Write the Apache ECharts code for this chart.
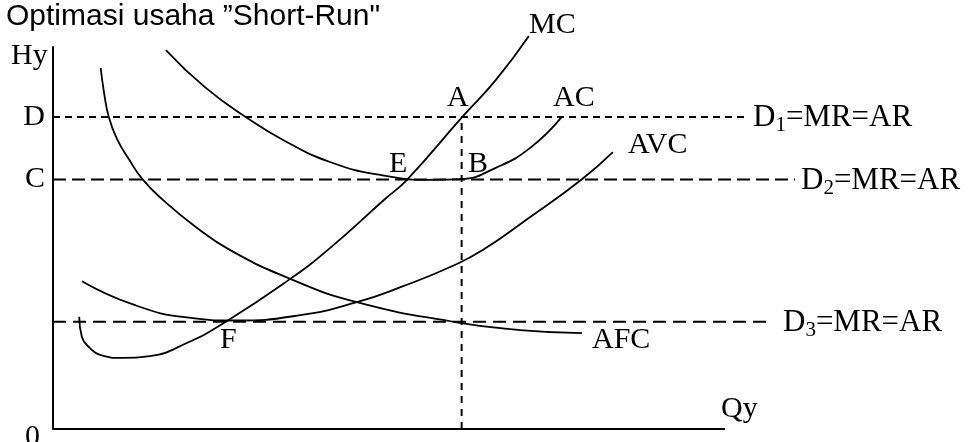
<!DOCTYPE html>
<html>
<head>
<meta charset="utf-8">
<script src="https://cdn.jsdelivr.net/npm/echarts@6/dist/echarts.min.js"></script>
<style>
html,body{margin:0;padding:0;background:#fff;}
#chart{width:969px;height:442px;}
</style>
</head>
<body>
<div id="chart"></div>
<script>
// ---- data (Q = quantity, P = price/cost) ----
const title = 'Optimasi usaha \u201DShort-Run"';
const yTickValues = [65.3, 81.7];
const yTickLabels = ['C', 'D'];
const qAxisEnd = 100;          // length of the drawn Q axis

const mcQ  = [3.9, 4.3, 5.5, 7.0, 10.3, 14.4, 19.9, 25.9, 35.3, 40.9, 49.4, 52.7, 60.9, 65.9, 70.8];
const mcP  = [29.4, 24.1, 21.2, 19.4, 18.6, 19.1, 22.5, 28.3, 39.3, 46.9, 60.2, 65.3, 81.7, 91.4, 102.9];

const avcQ = [4.3, 11.9, 19.9, 27.1, 36.8, 45.2, 52.1, 59.1, 64.0, 71.0, 78.7, 83.3];
const avcP = [38.7, 32.6, 29.2, 28.4, 29.8, 33.2, 37.4, 42.4, 46.9, 55.5, 65.4, 72.5];

const afcQ = [7.1, 7.6, 8.3, 9.5, 11.3, 13.4, 16.4, 21.1, 26.3, 35.3, 45.2, 59.8, 69.5, 78.7];
const afcP = [94.5, 88.0, 81.7, 76.0, 70.6, 65.2, 59.9, 53.1, 46.9, 39.3, 33.2, 28.0, 25.9, 25.1];

const acQ  = [16.8, 22.6, 28.9, 34.5, 41.2, 48.7, 56.6, 60.7, 65.8, 71.0, 75.7];
const acP  = [99.2, 89.5, 81.4, 75.4, 69.9, 66.5, 65.2, 65.4, 68.3, 73.6, 81.7];

// horizontal demand lines: price level and end quantity
const d1 = { p: 81.7, qEnd: 103.3 };
const d2 = { p: 65.3, qEnd: 110.4 };
const d3 = { p: 28.1, qEnd: 106.7 };
const qStar = 60.8;   // vertical dotted line through A and B

const pairs = (xs, ys) => xs.map((x, i) => [x, ys[i]]);

const chart = echarts.init(document.getElementById('chart'), null, {renderer: 'canvas', width: 969, height: 442});

const serif = '"Liberation Serif", "Times New Roman", serif';
const lab = 30;
const dlab = 31;
const black = '#000';

function curve(name, xs, ys) {
  return {
    name, type: 'line', data: pairs(xs, ys), smooth: 0.5,
    symbol: 'none', clip: false,
    lineStyle: {color: black, width: 1.8}, z: 3, silent: true
  };
}
function hline(name, p, qEnd, dash) {
  return {
    name, type: 'line', data: [[0, p], [qEnd, p]], symbol: 'none', clip: false,
    lineStyle: {color: black, width: 2, type: dash}, z: 2, silent: true
  };
}

function txt(text, x, y) {
  return {
    type: 'text', x, y, silent: true,
    style: {text, fill: black, font: lab + 'px ' + serif, align: 'left', verticalAlign: 'middle'}
  };
}
function demandLabel(sub, x, y) {
  return {
    type: 'text', x, y, silent: true,
    style: {
      text: '{a|D}{s|' + sub + '}{a|=MR=AR}',
      align: 'left', verticalAlign: 'middle',
      rich: {
        a: {fontSize: dlab, fontFamily: serif, fill: black, lineHeight: 33, verticalAlign: 'bottom'},
        s: {fontSize: 21, fontFamily: serif, fill: black, lineHeight: 22, verticalAlign: 'bottom', padding: [0, 0, -2, 0]}
      }
    }
  };
}

chart.setOption({
  animation: false,
  backgroundColor: '#fff',
  grid: {left: 53, top: 47, width: 742, height: 382, containLabel: false},
  xAxis: {
    type: 'value', min: 0, max: 110.4,
    axisLine: {show: false},
    axisTick: {show: false}, axisLabel: {show: false}, splitLine: {show: false}
  },
  yAxis: {
    type: 'value', min: 0, max: 100,
    axisLine: {show: true, onZero: false, lineStyle: {color: black, width: 2}},
    axisTick: {show: false}, splitLine: {show: false},
    axisLabel: {
      show: true, customValues: yTickValues, margin: 8,
      color: black, fontSize: lab, fontFamily: serif,
      formatter: v => yTickLabels[yTickValues.indexOf(v)]
    }
  },
  series: [
    {
      name: 'Q axis', type: 'line', data: [[0, 0], [qAxisEnd, 0]], symbol: 'none', clip: false,
      lineStyle: {color: black, width: 2}, z: 4, silent: true
    },
    hline('D1', d1.p, d1.qEnd, [7, 5]),
    hline('D2', d2.p, d2.qEnd, [13, 6]),
    hline('D3', d3.p, d3.qEnd, [13, 7]),
    {
      name: 'Q*', type: 'line', data: [[qStar, 0], [qStar, d1.p]], symbol: 'none', clip: false,
      lineStyle: {color: black, width: 2, type: [7, 6]}, z: 2, silent: true
    },
    curve('MC', mcQ, mcP),
    curve('AVC', avcQ, avcP),
    curve('AFC', afcQ, afcP),
    curve('AC', acQ, acP)
  ],
  graphic: [
    {type: 'text', x: 6, y: 2, silent: true,
     style: {text: title, fill: black, font: '30px "Liberation Sans", Arial, sans-serif', align: 'left', verticalAlign: 'top'}},
    txt('Hy', 11, 56),
    txt('0', 25, 437),
    txt('Qy', 721, 409),
    txt('MC', 529, 25),
    txt('A', 447, 98),
    txt('AC', 553, 98),
    txt('E', 389, 164),
    txt('B', 468, 164),
    txt('AVC', 628, 145),
    txt('F', 220, 340),
    txt('AFC', 592, 340),
    demandLabel('1', 753, 117),
    demandLabel('2', 801, 180),
    demandLabel('3', 783, 322)
  ]
});
</script>
</body>
</html>
